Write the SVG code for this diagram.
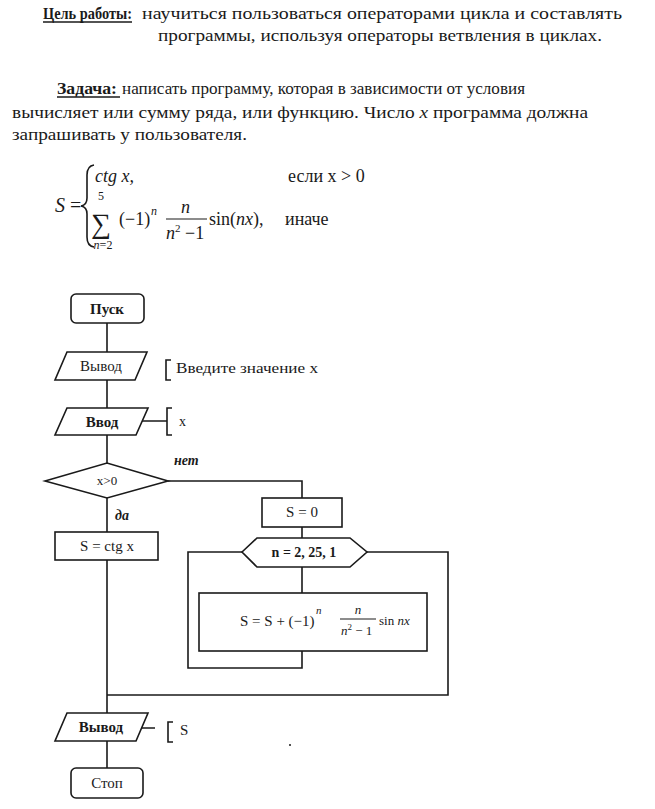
<svg xmlns="http://www.w3.org/2000/svg" width="655" height="809" viewBox="0 0 655 809">
<style>
text{font-family:"Liberation Serif","Times New Roman",serif;fill:#1a1a1a}
.hd{font-size:17px}
.b{font-weight:bold}
.i{font-style:italic}
.fm{font-size:18px}
.lb{font-size:15px;text-anchor:middle}
.sh{fill:#fff;stroke:#1a1a1a;stroke-width:1.6}
.ln{fill:none;stroke:#1a1a1a;stroke-width:1.6}
</style>
<rect width="655" height="809" fill="#fff"/>

<g id="header">
<text class="hd b" x="43" y="19" textLength="89" lengthAdjust="spacingAndGlyphs">Цель работы:</text>
<line x1="43" y1="22" x2="132" y2="22" stroke="#1a1a1a" stroke-width="1.3"/>
<text class="hd" x="142" y="19" textLength="480" lengthAdjust="spacingAndGlyphs">научиться пользоваться операторами цикла и составлять</text>
<text class="hd" x="158" y="41" textLength="444" lengthAdjust="spacingAndGlyphs">программы, используя операторы ветвления в циклах.</text>
<text class="hd b" x="57" y="94" textLength="60" lengthAdjust="spacingAndGlyphs">Задача:</text>
<line x1="57" y1="97" x2="120" y2="97" stroke="#1a1a1a" stroke-width="1.3"/>
<text class="hd" x="122" y="94" textLength="403" lengthAdjust="spacingAndGlyphs">написать программу, которая в зависимости от условия</text>
<text class="hd" x="12" y="118" textLength="576" lengthAdjust="spacingAndGlyphs">вычисляет или сумму ряда, или функцию. Число  <tspan class="i">x</tspan> программа должна</text>
<text class="hd" x="12" y="140" textLength="235" lengthAdjust="spacingAndGlyphs">запрашивать у пользователя.</text>
</g>

<g id="formula">
<text x="55" y="212" style="font-size:20px"><tspan class="i">S</tspan> =</text>
<path class="ln" d="M94,165 Q87,166 87,175 L87,198 Q87,205 81,206 Q87,207 87,214 L87,237 Q87,246 94,247" stroke-width="1.4"/>
<text class="fm i" x="95" y="182">ctg x,</text>
<text class="fm" x="288" y="182">если x &gt; 0</text>
<text x="101" y="200" style="font-size:12px;text-anchor:middle">5</text>
<text x="101" y="233" style="font-size:28px;text-anchor:middle">∑</text>
<text x="103" y="249" style="font-size:12px;text-anchor:middle"><tspan class="i">n</tspan>=2</text>
<text class="fm" x="119" y="225">(−1)</text>
<text class="i" x="151" y="215" style="font-size:12px">n</text>
<text class="fm i" x="181" y="213">n</text>
<line x1="166" y1="219" x2="207" y2="219" stroke="#1a1a1a" stroke-width="1.2"/>
<text class="fm" x="166" y="239"><tspan class="i">n</tspan><tspan style="font-size:11px" dy="-7">2</tspan><tspan dy="7"> −1</tspan></text>
<text class="fm" x="209" y="225">sin(<tspan class="i">nx</tspan>),</text>
<text class="fm" x="285" y="225">иначе</text>
</g>

<g id="connectors">
<path class="ln" d="M107,323 V352 M107,380 V408 M107,435 V463 M107,498 V532 M107,560 V713 M107,741 V768"/>
<path class="ln" d="M142,421 H167 M141,728 H155"/>
<path class="ln" d="M168,481 H302 V498 M302,527 V538 M302,567 V593"/>
<path class="ln" d="M242,552 H188 V668 H302 V651"/>
<path class="ln" d="M367,552 H448 V695 H107"/>
</g>

<g id="start">
<rect class="sh" x="71" y="294" width="73" height="29" rx="5"/>
<text class="lb b" x="107" y="314">Пуск</text>
</g>

<g id="output1">
<polygon class="sh" points="67,352 147,352 135,380 55,380"/>
<text class="lb" x="101" y="371">Вывод</text>
<path class="ln" d="M171,360 H166 V380 H171"/>
<text x="176" y="373" style="font-size:14px" textLength="142" lengthAdjust="spacingAndGlyphs">Введите значение x</text>
</g>

<g id="input">
<polygon class="sh" points="67,408 148,408 136,435 55,435"/>
<text class="lb b" x="102" y="427">Ввод</text>
<path class="ln" d="M172,408 H167 V435 H172"/>
<text x="179" y="426" style="font-size:14px">x</text>
</g>

<g id="decision">
<polygon class="sh" points="45,481 107,463 168,481 107,498"/>
<text class="lb" x="107" y="485" style="font-size:13px">x&gt;0</text>
<text class="b i" x="174" y="465" style="font-size:14px">нет</text>
<text class="b i" x="115" y="520" style="font-size:14px">да</text>
</g>

<g id="ctg">
<rect class="sh" x="55" y="532" width="103" height="28"/>
<text class="lb" x="107" y="551">S = ctg x</text>
</g>

<g id="init">
<rect class="sh" x="262" y="498" width="80" height="29"/>
<text class="lb" x="302" y="517">S = 0</text>
</g>

<g id="loop">
<polygon class="sh" points="242,552 257,538 350,538 367,552 350,567 257,567"/>
<text class="lb b" x="304" y="557" style="font-size:14px">n = 2, 25, 1</text>
</g>

<g id="body">
<rect class="sh" x="199" y="593" width="228" height="58"/>
<text x="240" y="626" style="font-size:15px">S = S + (−1)</text>
<text class="i" x="316" y="614" style="font-size:11px">n</text>
<text class="i" x="358" y="614" style="font-size:13px;text-anchor:middle">n</text>
<line x1="340" y1="619" x2="376" y2="619" stroke="#1a1a1a" stroke-width="1"/>
<text x="341" y="635" style="font-size:13px"><tspan class="i">n</tspan><tspan dy="-5" style="font-size:9px">2</tspan><tspan dy="5"> − 1</tspan></text>
<text x="379" y="625" style="font-size:13px">sin <tspan class="i">nx</tspan></text>
</g>

<g id="output2">
<polygon class="sh" points="67,713 148,713 136,741 55,741"/>
<text class="lb b" x="101" y="732">Вывод</text>
<path class="ln" d="M173,722 H168 V742 H173"/>
<text x="180" y="735" style="font-size:15px">S</text>
<circle cx="290" cy="745" r="1" fill="#1a1a1a"/>
</g>

<g id="stop">
<rect class="sh" x="71" y="768" width="72" height="30" rx="5"/>
<text class="lb" x="107" y="788">Стоп</text>
</g>
</svg>
